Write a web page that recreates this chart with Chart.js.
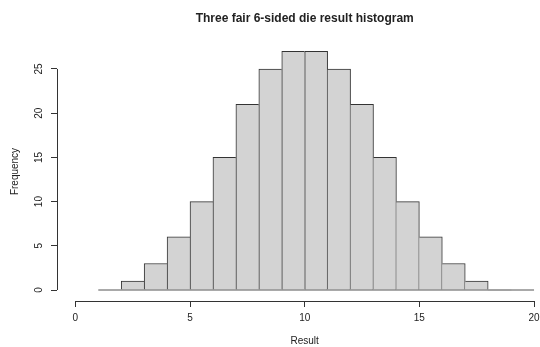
<!DOCTYPE html>
<html>
<head>
<meta charset="utf-8">
<script src="https://cdn.jsdelivr.net/npm/chart.js@4/dist/chart.umd.min.js"></script>
<style>
  html, body { margin: 0; padding: 0; background: #ffffff; }
  #wrap { width: 540px; height: 347px; position: relative; }
</style>
</head>
<body>
<div id="wrap"><canvas id="c" width="540" height="347"></canvas></div>
<script>
// ---- data ----
const chartTitle = 'Three fair 6-sided die result histogram';
const xLabel = 'Result';
const yLabel = 'Frequency';
const breaks = [1, 2, 3, 4, 5, 6, 7, 8, 9, 10, 11, 12, 13, 14, 15, 16, 17, 18, 19, 20];
const counts = [0, 1, 3, 6, 10, 15, 21, 25, 27, 27, 25, 21, 15, 10, 6, 3, 1, 0, 0];
const xTickValues = [0, 5, 10, 15, 20];
const yTickValues = [0, 5, 10, 15, 20, 25];

// ---- derived ----
const barData = counts.map((c, i) => ({ x: (breaks[i] + breaks[i + 1]) / 2, y: c }));
const baseData = [{ x: breaks[0], y: 0 }, { x: breaks[breaks.length - 1], y: 0 }];

const FONT = "'Liberation Sans', Arial, Helvetica, sans-serif";
const TEXT = '#222222';
const LINE = '#333333';

function borderFor(ctx) {
  const i = ctx.dataIndex;
  const v = counts[i];
  const prev = i > 0 ? counts[i - 1] : 0;
  const next = i < counts.length - 1 ? counts[i + 1] : 0;
  return { top: 1, bottom: 0, left: v >= prev ? 1 : 0, right: v > next ? 1 : 0 };
}

const rAxesPlugin = {
  id: 'rAxes',
  afterDraw(chart) {
    const { ctx, chartArea, scales } = chart;
    const xs = scales.x, ys = scales.y;
    ctx.save();
    ctx.strokeStyle = LINE;
    ctx.lineWidth = 1;
    // x axis line between first and last tick
    const xa = xs.getPixelForValue(xTickValues[0]);
    const xb = xs.getPixelForValue(xTickValues[xTickValues.length - 1]);
    const yb = Math.round(chartArea.bottom) + 0.5;
    ctx.beginPath(); ctx.moveTo(xa, yb); ctx.lineTo(xb, yb); ctx.stroke();
    // y axis line
    const ya = ys.getPixelForValue(yTickValues[0]);
    const yt = ys.getPixelForValue(yTickValues[yTickValues.length - 1]);
    const xl = Math.round(chartArea.left) + 0.5;
    ctx.beginPath(); ctx.moveTo(xl, ya); ctx.lineTo(xl, yt); ctx.stroke();
    // titles centred on the plot region
    const cx = xs.getPixelForValue(10);
    ctx.fillStyle = TEXT;
    ctx.textAlign = 'center';
    ctx.textBaseline = 'alphabetic';
    ctx.font = 'bold 12px ' + FONT;
    ctx.fillText(chartTitle, cx, 21.5);
    ctx.font = '10px ' + FONT;
    ctx.textBaseline = 'middle';
    ctx.fillText(xLabel, cx, 341);
    ctx.restore();
  }
};

new Chart(document.getElementById('c'), {
  type: 'bar',
  data: {
    datasets: [
      {
        type: 'bar',
        data: barData,
        backgroundColor: '#d3d3d3',
        borderColor: LINE,
        borderWidth: borderFor,
        borderSkipped: false,
        barPercentage: 1,
        categoryPercentage: 1,
        order: 2
      },
      {
        type: 'line',
        data: baseData,
        borderColor: '#555555',
        borderWidth: 1,
        pointRadius: 0,
        fill: false,
        order: 1
      }
    ]
  },
  options: {
    responsive: false,
    animation: false,
    events: [],
    layout: { padding: { top: 42, left: 0, right: 0, bottom: 0 } },
    plugins: {
      legend: { display: false },
      title: { display: false },
      tooltip: { enabled: false }
    },
    scales: {
      x: {
        type: 'linear',
        offset: false,
        min: -0.8,
        max: 20.26,
        afterBuildTicks(s) { s.ticks = xTickValues.map(v => ({ value: v })); },
        afterFit(s) { s.height = 46; s.paddingLeft = 0; s.paddingRight = 0; },
        border: { display: false },
        grid: { display: true, drawOnChartArea: false, drawTicks: true, tickLength: 6, color: LINE, offset: false },
        ticks: {
          color: TEXT, font: { family: FONT, size: 10 }, padding: 5,
          maxRotation: 0, minRotation: 0, autoSkip: false,
          callback: v => String(v)
        },
        title: { display: false }
      },
      y: {
        type: 'linear',
        min: -1.244,
        max: 28.05,
        afterBuildTicks(s) { s.ticks = yTickValues.map(v => ({ value: v })); },
        afterFit(s) { s.width = 57; s.paddingTop = 0; s.paddingBottom = 0; },
        border: { display: false },
        grid: { display: true, drawOnChartArea: false, drawTicks: true, tickLength: 6, color: LINE },
        ticks: {
          color: TEXT, font: { family: FONT, size: 10 }, padding: 6,
          minRotation: 90, maxRotation: 90, crossAlign: 'center', autoSkip: false,
          callback: v => String(v)
        },
        title: {
          display: true, text: yLabel, color: TEXT,
          font: { family: FONT, size: 10 }, padding: { top: 9, bottom: 0 }
        }
      }
    }
  },
  plugins: [rAxesPlugin]
});
</script>
</body>
</html>
